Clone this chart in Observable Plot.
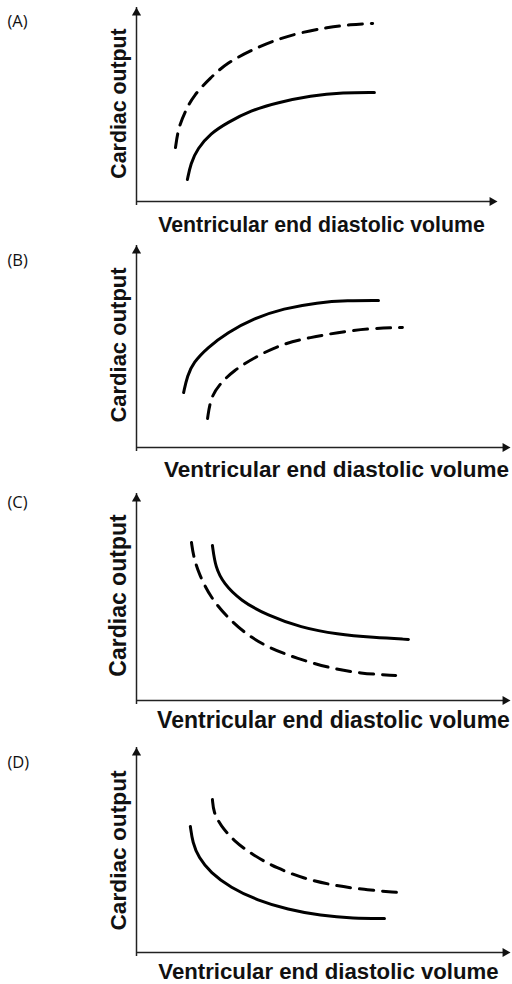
<!DOCTYPE html>
<html>
<head>
<meta charset="utf-8">
<script src="https://cdn.jsdelivr.net/npm/d3@7"></script>
<script src="https://cdn.jsdelivr.net/npm/@observablehq/plot@0.6"></script>
<style>
  html, body { margin: 0; padding: 0; background: #fff; }
  #chart { width: 512px; }
  #chart svg { display: block; }
</style>
</head>
<body>
<div id="chart"></div>
<script>
// ---- text ----
const panelLabels = ["(A)", "(B)", "(C)", "(D)"];
const xTitle = "Ventricular end diastolic volume";
const yTitle = "Cardiac output";

// ---- curves: [x, y] in percent of each axis length (schematic) ----
const solidA  = [[14.1,11.3],[15.0,19.6],[16.9,27.3],[20.5,35.1],[25.2,40.7],[31.6,46.9],[39.1,51.0],[48.2,54.6],[57.3,56.2],[65.9,56.2]];
const dashedA = [[10.8,27.8],[11.6,38.1],[13.6,46.9],[15.8,54.6],[20.5,63.9],[25.2,71.6],[31.6,77.8],[38.0,83.0],[45.4,87.1],[52.9,89.7],[59.3,91.2],[65.4,91.8]];

const solidB  = [[12.6,27.2],[13.6,35.6],[15.2,42.1],[19.0,49.5],[24.3,56.9],[31.3,63.9],[39.3,68.8],[48.4,71.8],[56.4,72.8],[64.7,72.8]];
const dashedB = [[19.0,14.4],[19.8,24.3],[21.9,30.7],[25.9,38.1],[32.4,45.5],[39.3,51.5],[46.5,54.5],[53.7,56.9],[61.8,58.9],[71.1,59.4]];

const solidC  = [[20.3,74.9],[21.1,64.3],[23.3,56.5],[27.8,48.3],[35.0,41.1],[43.9,35.3],[53.7,31.9],[63.4,30.4],[72.7,29.5]];
const dashedC = [[14.7,76.3],[15.2,70.0],[16.6,61.4],[19.8,49.8],[24.3,40.1],[29.7,31.4],[35.8,25.1],[43.0,20.3],[51.1,15.9],[59.9,13.0],[69.3,12.1]];

const solidD  = [[14.4,61.5],[15.0,53.7],[16.6,46.3],[19.8,39.0],[25.1,31.7],[32.4,25.4],[40.4,21.0],[49.2,18.0],[58.0,16.6],[66.3,16.6]];
const dashedD = [[20.3,74.6],[20.6,68.3],[22.5,62.0],[25.9,54.6],[31.3,47.3],[37.7,41.0],[44.7,36.1],[52.7,32.7],[60.7,30.7],[69.8,29.3]];

const solids  = [solidA, solidB, solidC, solidD];
const dasheds = [dashedA, dashedB, dashedC, dashedD];

// ---- layout (pixels) ----
const W = 512;
const AXIS_LEFT = 136;
const layouts = [
  {height: 240, top: 7,  axisY: 201, right: 497, letterBase: 26.5, xcx: 321, xBase: 231,   xSize: 21.3, ycy: 103,   ySize: 21.3},
  {height: 245, top: 5,  axisY: 207, right: 510, letterBase: 25.5, xcx: 336, xBase: 236,   xSize: 22.5, ycy: 104.5, ySize: 22},
  {height: 245, top: 8,  axisY: 215, right: 510, letterBase: 22,   xcx: 333, xBase: 242,   xSize: 23,   ycy: 110,   ySize: 23},
  {height: 254, top: 17, axisY: 222, right: 510, letterBase: 37,   xcx: 328, xBase: 248.5, xSize: 22.2, ycy: 120,   ySize: 22.7}
];

const INK = "#111";
const boldFont = "Liberation Sans, Arial, Helvetica, sans-serif";

function panel(i) {
  const L = layouts[i];
  const frameCx = (AXIS_LEFT + L.right) / 2;
  const frameCy = (L.top + L.axisY) / 2;
  const px = d => d[0], py = d => d[1];
  return Plot.plot({
    width: W,
    height: L.height,
    marginLeft: AXIS_LEFT,
    marginRight: W - L.right,
    marginTop: L.top,
    marginBottom: L.height - L.axisY,
    x: {domain: [0, 100], axis: null},
    y: {domain: [0, 100], axis: null},
    style: {background: "white", overflow: "visible"},
    marks: [
      // axes with arrowheads
      Plot.ruleY([0], {x1: 0, x2: 100, stroke: "#222", strokeWidth: 1.5, insetRight: 4}),
      Plot.ruleX([0], {y1: 0, y2: 100, stroke: "#222", strokeWidth: 1.5, insetTop: 4}),
      Plot.dot([[100, 0]], {x: px, y: py, symbol: "triangle", r: 3.4, fill: INK, stroke: null, rotate: 90, dx: -5.3}),
      Plot.dot([[0, 100]], {x: px, y: py, symbol: "triangle", r: 3.4, fill: INK, stroke: null, dy: 5.3}),
      // curves
      Plot.line(solids[i], {x: px, y: py, curve: "basis", stroke: "#000", strokeWidth: 3}),
      Plot.line(dasheds[i], {x: px, y: py, curve: "basis", stroke: "#000", strokeWidth: 3, strokeDasharray: "14,9"}),
      // panel letter
      Plot.text([panelLabels[i]], {
        frameAnchor: "top-left", dx: 7 - AXIS_LEFT, dy: L.letterBase - L.top,
        textAnchor: "start", lineAnchor: "bottom",
        fontFamily: "Open Sans, Noto Sans, sans-serif", fontSize: 16.5, fill: INK
      }),
      // x title
      Plot.text([xTitle], {
        frameAnchor: "bottom", dx: L.xcx - frameCx, dy: L.xBase - L.axisY,
        textAnchor: "middle", lineAnchor: "bottom",
        fontFamily: boldFont, fontWeight: "bold", fontSize: L.xSize, fill: INK
      }),
      // y title
      Plot.text([yTitle], {
        frameAnchor: "left", rotate: -90, dx: -11, dy: L.ycy - frameCy,
        textAnchor: "middle", lineAnchor: "bottom",
        fontFamily: boldFont, fontWeight: "bold", fontSize: L.ySize, fill: INK
      })
    ]
  });
}

const root = document.getElementById("chart");
for (let i = 0; i < 4; i++) root.appendChild(panel(i));
</script>
</body>
</html>
